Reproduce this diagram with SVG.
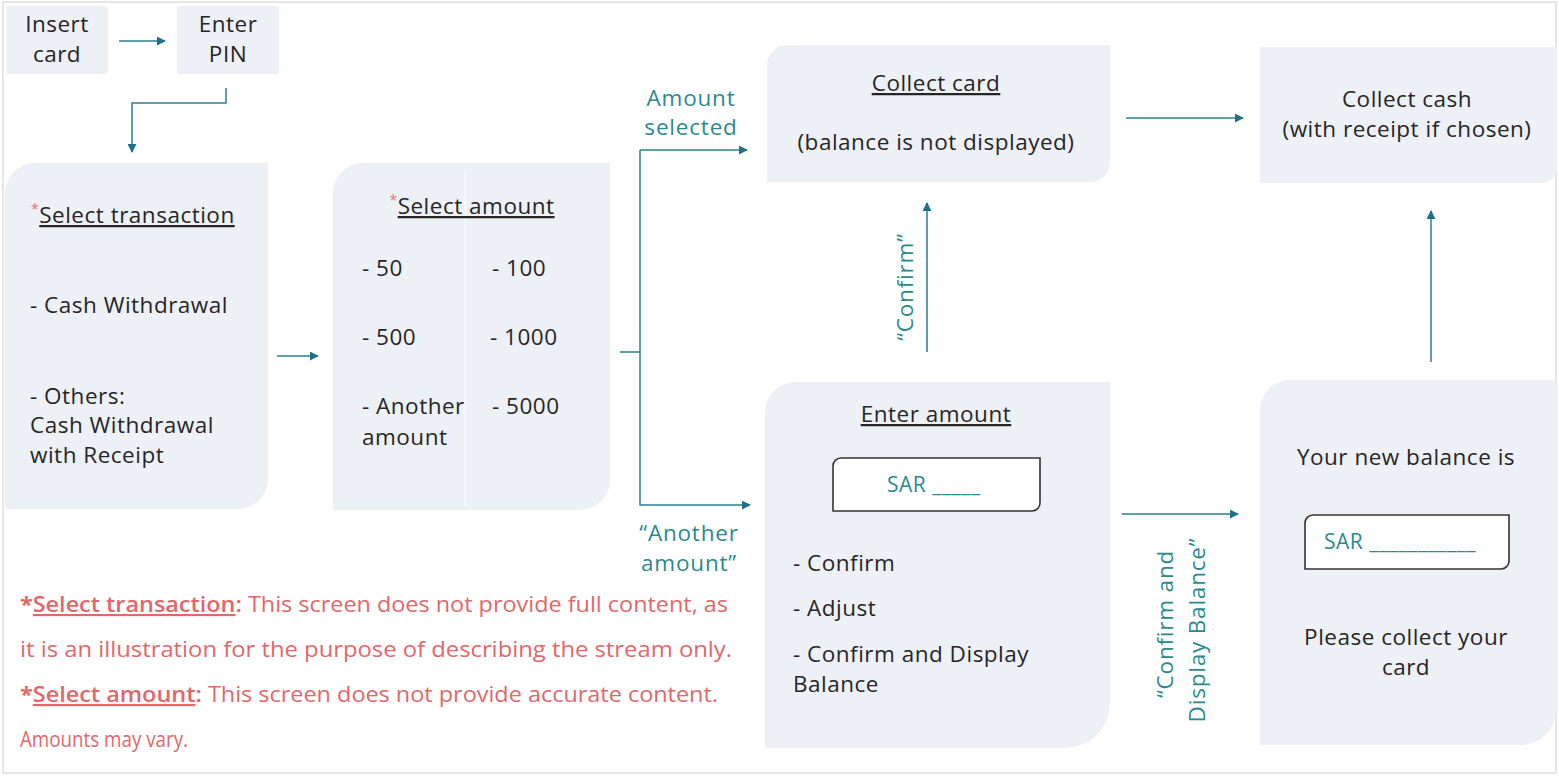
<svg xmlns="http://www.w3.org/2000/svg" width="1559" height="777" viewBox="0 0 1559 777">
<defs>
<style>
.box{fill:#edf0f5;}
.t{font-family:"Open Sans","Noto Sans","Liberation Sans",sans-serif;font-size:22.5px;letter-spacing:0.5px;fill:#262626;}
.c{text-anchor:middle;}
.u{text-decoration:underline;}
.lab{font-family:"Open Sans","Noto Sans","Liberation Sans",sans-serif;font-size:22.5px;letter-spacing:0.8px;fill:#2b8a8c;}
.sar{font-family:"Open Sans","Noto Sans","Liberation Sans",sans-serif;font-size:21px;letter-spacing:0.5px;fill:#2b8a8c;}
.note{font-family:"Open Sans","Noto Sans","Liberation Sans",sans-serif;font-size:21.5px;fill:#e0686a;}
.star{fill:#e87070;}
.conn{fill:none;stroke:#2b7f8e;stroke-width:1.5;}
.field{fill:#ffffff;stroke:#333;stroke-width:1.6;}
</style>
<marker id="arr" viewBox="0 0 10 10" refX="9" refY="5" markerWidth="9" markerHeight="9" markerUnits="userSpaceOnUse" orient="auto">
<path d="M0,0 L10,5 L0,10 Z" fill="#1f7185"/>
</marker>
</defs>
<rect x="0" y="0" width="1559" height="777" fill="#ffffff"/>
<rect x="3" y="2" width="1553" height="771" fill="none" stroke="#dedede" stroke-width="1.5"/>

<g id="insert-card">
<rect class="box" x="6" y="6" width="102" height="68" rx="3"/>
<text class="t c" x="57" y="32">Insert</text>
<text class="t c" x="57" y="62">card</text>
</g>

<g id="enter-pin">
<rect class="box" x="177" y="6" width="102" height="68" rx="3"/>
<text class="t c" x="228" y="32">Enter</text>
<text class="t c" x="228" y="62">PIN</text>
</g>

<g id="select-transaction">
<path class="box" d="M35,163 H268 V479 A30,30 0 0 1 238,509 H5 V193 A30,30 0 0 1 35,163 Z"/>
<text class="t" x="31" y="223"><tspan class="star" font-size="14" dy="-9">*</tspan><tspan class="u" dy="9">Select transaction</tspan></text>
<text class="t" x="30" y="313">- Cash Withdrawal</text>
<text class="t" x="30" y="404">- Others:</text>
<text class="t" x="30" y="433">Cash Withdrawal</text>
<text class="t" x="30" y="463">with Receipt</text>
</g>

<g id="select-amount">
<path class="box" d="M363,163 H610 V480 A30,30 0 0 1 580,510 H333 V193 A30,30 0 0 1 363,163 Z"/>
<line x1="465" y1="170" x2="465" y2="505" stroke="#f6f7fa" stroke-width="2"/>
<text class="t c" x="472" y="214"><tspan class="star" font-size="14" dy="-9">*</tspan><tspan class="u" dy="9">Select amount</tspan></text>
<text class="t" x="362" y="276">- 50</text>
<text class="t" x="492" y="276">- 100</text>
<text class="t" x="362" y="345">- 500</text>
<text class="t" x="490" y="345">- 1000</text>
<text class="t" x="362" y="414">- Another</text>
<text class="t" x="362" y="445">amount</text>
<text class="t" x="492" y="414">- 5000</text>
</g>

<g id="collect-card">
<path class="box" d="M787,45 H1110 V162 A20,20 0 0 1 1090,182 H767 V65 A20,20 0 0 1 787,45 Z"/>
<text class="t c u" x="936" y="91">Collect card</text>
<text class="t c" x="936" y="150">(balance is not displayed)</text>
</g>

<g id="collect-cash">
<path class="box" d="M1260,47 H1557 V168 A15,15 0 0 1 1542,183 H1260 Z"/>
<text class="t c" x="1407" y="107">Collect cash</text>
<text class="t c" x="1407" y="137">(with receipt if chosen)</text>
</g>

<g id="enter-amount">
<path class="box" d="M795,382 H1110 V703 A45,45 0 0 1 1065,748 H765 V412 A30,30 0 0 1 795,382 Z"/>
<text class="t c u" x="936" y="422">Enter amount</text>
<path class="field" d="M841,458 H1040 V503 A8,8 0 0 1 1032,511 H833 V466 A8,8 0 0 1 841,458 Z"/>
<text class="sar" x="887" y="492">SAR _____</text>
<text class="t" x="793" y="571">- Confirm</text>
<text class="t" x="793" y="616">- Adjust</text>
<text class="t" x="793" y="662">- Confirm and Display</text>
<text class="t" x="793" y="692">Balance</text>
</g>

<g id="new-balance">
<path class="box" d="M1290,380 H1556 V710 A35,35 0 0 1 1521,745 H1260 V410 A30,30 0 0 1 1290,380 Z"/>
<text class="t c" x="1406" y="465">Your new balance is</text>
<path class="field" d="M1313,515 H1509 V561 A8,8 0 0 1 1501,569 H1305 V523 A8,8 0 0 1 1313,515 Z"/>
<text class="sar" x="1324" y="549">SAR ___________</text>
<text class="t c" x="1406" y="645">Please collect your</text>
<text class="t c" x="1406" y="675">card</text>
</g>

<g id="connectors">
<line class="conn" x1="119" y1="41" x2="165" y2="41" marker-end="url(#arr)"/>
<path class="conn" d="M226,88 V103 H132 V152" marker-end="url(#arr)"/>
<line class="conn" x1="277" y1="356" x2="318" y2="356" marker-end="url(#arr)"/>
<line class="conn" x1="620" y1="352" x2="640" y2="352"/>
<path class="conn" d="M640,150 V505 H750" marker-end="url(#arr)"/>
<line class="conn" x1="640" y1="150" x2="747" y2="150" marker-end="url(#arr)"/>
<line class="conn" x1="1126" y1="118" x2="1243" y2="118" marker-end="url(#arr)"/>
<line class="conn" x1="927" y1="352" x2="927" y2="203" marker-end="url(#arr)"/>
<line class="conn" x1="1122" y1="514" x2="1238" y2="514" marker-end="url(#arr)"/>
<line class="conn" x1="1431" y1="362" x2="1431" y2="211" marker-end="url(#arr)"/>
<text class="lab c" x="691" y="106">Amount</text>
<text class="lab c" x="691" y="135">selected</text>
<text class="lab c" x="689" y="541">“Another</text>
<text class="lab c" x="689" y="571">amount”</text>
<text class="lab c" transform="translate(913,287) rotate(-90)">“Confirm”</text>
<text class="lab c" transform="translate(1173,624) rotate(-90)">“Confirm and</text>
<text class="lab c" transform="translate(1205,630) rotate(-90)">Display Balance”</text>
</g>

<g id="notes">
<text class="note" x="20" y="612" textLength="708" lengthAdjust="spacingAndGlyphs"><tspan font-weight="bold">*</tspan><tspan font-weight="600" class="u">Select transaction</tspan><tspan font-weight="600">:</tspan> This screen does not provide full content, as</text>
<text class="note" x="20" y="657" textLength="712" lengthAdjust="spacingAndGlyphs">it is an illustration for the purpose of describing the stream only.</text>
<text class="note" x="20" y="702" textLength="698" lengthAdjust="spacingAndGlyphs"><tspan font-weight="bold">*</tspan><tspan font-weight="600" class="u">Select amount</tspan><tspan font-weight="600">:</tspan> This screen does not provide accurate content.</text>
<text class="note" x="20" y="747" textLength="168" lengthAdjust="spacingAndGlyphs">Amounts may vary.</text>
</g>
</svg>
